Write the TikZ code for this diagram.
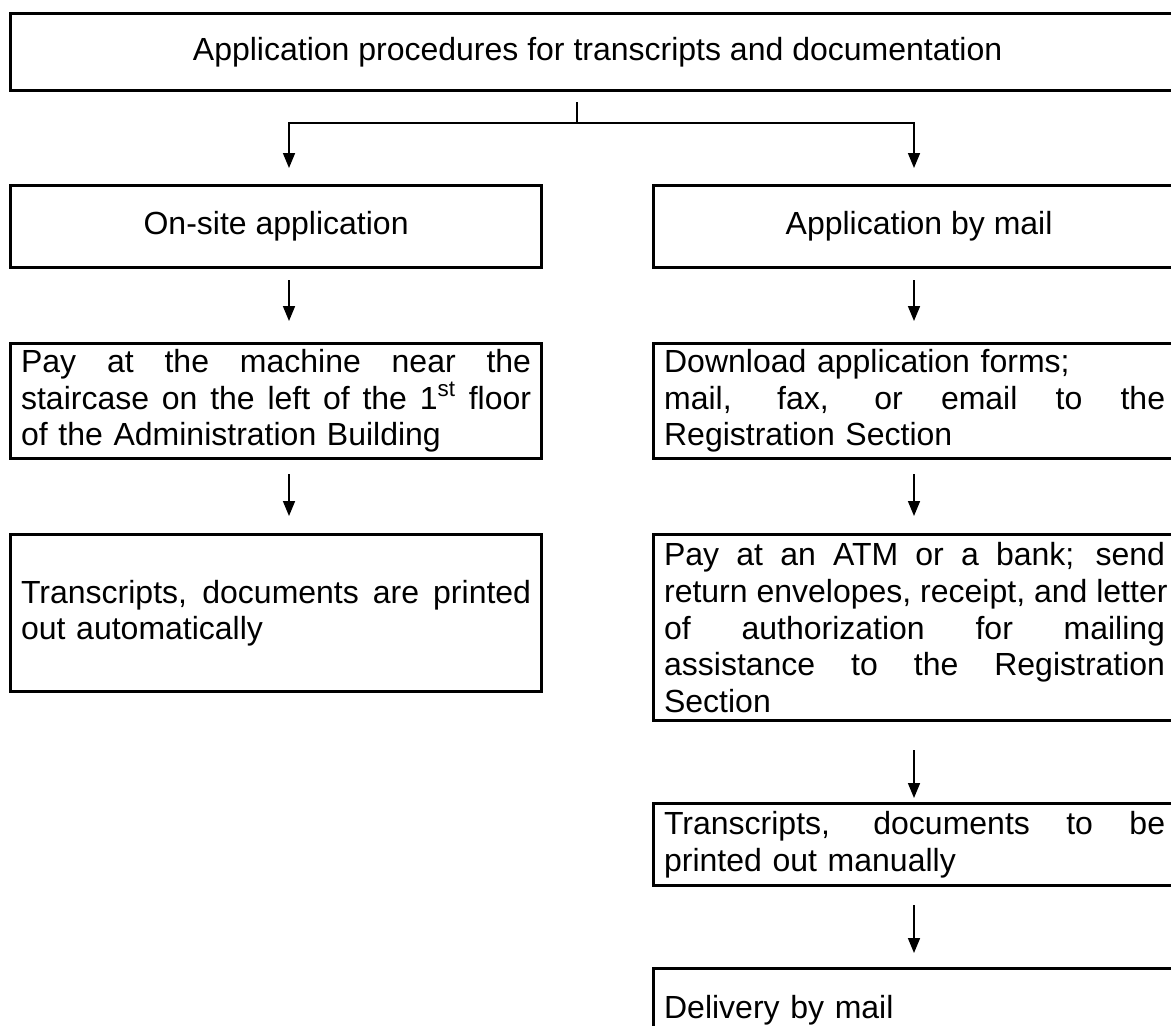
\documentclass[tikz,border=0pt]{standalone}
\usepackage{fontspec}
\setmainfont{Liberation Sans}
\usetikzlibrary{arrows.meta}
\newlength{\tw}\setlength{\tw}{255pt}
\newlength{\twr}\setlength{\twr}{250.5pt}
\newcommand{\jl}[1]{\leavevmode\hbox to \tw{\spaceskip=0.278em plus 1fil\relax\xspaceskip=\spaceskip #1}}
\newcommand{\jr}[1]{\leavevmode\hbox to \twr{\spaceskip=0.278em plus 1fil\relax\xspaceskip=\spaceskip #1}}
\begin{document}
\begin{tikzpicture}[x=0.5pt,y=-0.5pt,
  box/.style={draw, line width=1.6pt, anchor=north west, inner xsep=5.25pt, inner ysep=0pt,
    font=\fontsize{16}{18.3}\selectfont},
  tbox/.style={box, text width=255pt, align=left},
  conn/.style={line width=0.8pt},
  arr/.style={conn, -{Triangle[width=6pt,length=7.5pt]}}]
\useasboundingbox (0,0) rectangle (1171,1025);
\coordinate (xL) at (289,0);
\coordinate (xR) at (914,0);
\coordinate (j) at (577,123);

\node[box, minimum width=587pt, minimum height=38.5pt] (top) at (9,12)
  {Application procedures for transcripts and documentation};

\node[box, minimum width=265.5pt, minimum height=41pt] (onsite) at (9,184) {On-site application};
\node[box, minimum width=265.5pt, minimum height=41pt] (mail) at (652,184) {Application by mail};

\node[tbox, minimum height=57.5pt] (pay1) at (9,342)
  {\jl{Pay at the machine near the}\\\jl{staircase on the left of the 1\textsuperscript{st} floor}\\of the Administration Building};
\node[tbox, minimum height=57.5pt] (down) at (652,342)
  {Download application forms;\\\jr{mail, fax, or email to the}\\Registration Section};

\node[tbox, minimum height=78.5pt] (auto) at (9,533)
  {\jl{Transcripts, documents are printed}\\out automatically};
\node[tbox, minimum height=93pt] (pay2) at (652,533)
  {\jr{Pay at an ATM or a bank; send}\\\jr{return envelopes, receipt, and letter}\\\jr{of authorization for mailing}\\\jr{assistance to the Registration}\\Section};

\node[tbox, minimum height=41pt] (manual) at (652,802)
  {\jr{Transcripts, documents to be}\\printed out manually};
\node[tbox, minimum height=42pt] (deliv) at (652,967) {Delivery by mail};

\draw[conn, shorten <=5pt] (top.south -| j) -- (j);
\draw[arr, shorten >=8pt] (j) -| (onsite.north -| xL);
\draw[arr, shorten >=8pt] (j) -| (mail.north -| xR);

\draw[arr, shorten <=5.5pt, shorten >=10.5pt] (onsite.south -| xL) -- (pay1.north -| xL);
\draw[arr, shorten <=5.5pt, shorten >=10.5pt] (mail.south -| xR) -- (down.north -| xR);
\draw[arr, shorten <=7pt, shorten >=8.5pt] (pay1.south -| xL) -- (auto.north -| xL);
\draw[arr, shorten <=7pt, shorten >=8.5pt] (down.south -| xR) -- (pay2.north -| xR);
\draw[arr, shorten <=14pt, shorten >=2pt] (pay2.south -| xR) -- (manual.north -| xR);
\draw[arr, shorten <=9pt, shorten >=7pt] (manual.south -| xR) -- (deliv.north -| xR);
\end{tikzpicture}
\end{document}
